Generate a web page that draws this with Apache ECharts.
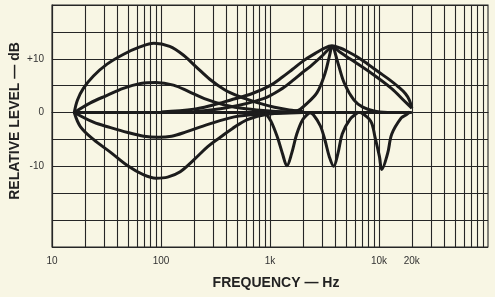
<!DOCTYPE html>
<html>
<head>
<meta charset="utf-8">
<script src="https://cdn.jsdelivr.net/npm/echarts@6/dist/echarts.min.js"></script>
<style>
html,body{margin:0;padding:0;background:#f8f6e4;}
#chart{width:495px;height:297px;}
</style>
</head>
<body>
<div id="chart"></div>
<script>
// ---- Data (frequency Hz, level dB) ----
const xTickValues = [10, 100, 1000, 10000, 20000];
const xTickLabels = ['10', '100', '1k', '10k', '20k'];
const yTickValues = [10, 0, -10];
const yTickLabels = ['+10', '0', '-10'];

const flatLine = [[16, 0], [20000, 0]];

const bassBoostHigh = [[16,0],[17.1,2.3],[19.4,4.5],[24,6.8],[32,9.0],[45,10.8],[64,12.2],[86,12.9],[120,12.3],[160,10.7],[210,8.5],[280,6.2],[380,4.3],[520,3.0],[750,1.9],[1100,1.0],[1500,0.5],[2000,0.2]];
const bassBoostLow = [[16,0],[22.5,1.8],[32,3.2],[45,4.5],[65,5.4],[90,5.6],[130,5.1],[180,3.9],[250,2.6],[400,1.3],[600,0.7],[1000,0.3],[2000,0]];
const bassCutLow = [[16,0],[24,-1.8],[34.5,-2.8],[49.5,-3.7],[69.5,-4.4],[94,-4.6],[125,-4.4],[170,-3.6],[270,-2.2],[470,-0.8],[800,-0.3],[2000,0]];
const bassCutHigh = [[16,0],[18.2,-2.6],[24,-5.0],[34.5,-7.4],[49.5,-9.9],[69.5,-11.6],[90,-12.2],[115,-12.0],[150,-11.0],[200,-8.8],[270,-6.3],[350,-4.6],[450,-3.0],[620,-1.3],[950,-0.3],[2000,0]];

const trebleWide = [[100,0.1],[200,0.6],[300,1.4],[430,2.3],[680,3.5],[1000,5.0],[1300,6.6],[1600,8.0],[2050,9.7],[2600,11.0],[3100,11.9],[3700,12.4],[4400,12.0],[5200,11.3],[6500,10.2],[7900,9.0],[10000,7.5],[12100,6.3],[15000,4.8],[17500,3.5],[19000,2.3],[20000,0.8]];
const trebleMedium = [[200,0.2],[400,0.9],[870,2.6],[1300,4.5],[1600,5.9],[2000,7.5],[2350,8.6],[3100,10.8],[3500,11.9],[3750,12.2],[4400,11.2],[5500,9.9],[8400,7.4],[13000,4.5],[17000,2.2],[20000,0.8]];
const trebleNarrow = [[1000,0],[1800,0.4],[2100,1.4],[2700,3.7],[3200,7.3],[3500,10.4],[3720,12.3],[4200,9.2],[4800,5.5],[5900,2.3],[7100,1.0],[9000,0.3],[12000,0]];

const notchLow = [[900,0],[1020,-1.6],[1170,-4.6],[1300,-7.6],[1430,-9.9],[1580,-7.6],[1760,-4.0],[2000,-1.3],[2300,0]];
const notchMid = [[2300,0],[2500,-0.4],[2900,-2.5],[3200,-5.2],[3500,-8.2],[3840,-10.0],[4200,-7.6],[4600,-4.0],[5400,-1.3],[6500,0.1]];
const notchHigh = [[6800,0],[8400,-1.6],[9200,-4.6],[10100,-8.2],[10600,-10.6],[12000,-7.6],[13100,-4.0],[16000,-1.0],[17800,-0.4],[19200,0.1]];

const curves = [flatLine, bassBoostHigh, bassBoostLow, bassCutLow, bassCutHigh,
                trebleWide, trebleMedium, trebleNarrow, notchLow, notchMid, notchHigh];

// vertical log-paper grid lines (1..9 per decade)
const gridFreqs = [];
for (let d = 10; d < 100000; d *= 10) {
  for (let m = 1; m <= 9; m++) gridFreqs.push(d * m);
}

const ink = '#1c1c1c';
const gridInk = '#262626';
const chart = echarts.init(document.getElementById('chart'));

const series = curves.map((c) => ({
  type: 'line',
  data: c,
  showSymbol: false,
  smooth: 0.35,
  lineStyle: { color: ink, width: 3 },
  z: 5,
  silent: true
}));

series.push({
  type: 'line',
  data: [],
  silent: true,
  markLine: {
    silent: true,
    symbol: 'none',
    label: { show: false },
    lineStyle: { color: gridInk, width: 1.1, type: 'solid' },
    data: gridFreqs.map(f => ({ xAxis: f }))
  },
  z: 1
});

chart.setOption({
  backgroundColor: '#f8f6e4',
  animation: false,
  grid: { left: 52, right: 7, top: 5, bottom: 50, outerBoundsMode: 'none', containLabel: false, show: true, borderColor: gridInk, borderWidth: 1.1 },
  xAxis: {
    type: 'log',
    logBase: 10,
    min: 10,
    max: 100000,
    name: 'FREQUENCY — Hz',
    nameLocation: 'middle',
    nameGap: 29,
    nameMoveOverlap: false,
    nameTextStyle: { fontFamily: 'Liberation Sans', fontWeight: 'bold', fontSize: 14, color: '#222', padding: [0, 0, 0, 12] },
    axisLine: { show: true, lineStyle: { color: gridInk, width: 1.1 } },
    axisTick: { show: false },
    splitLine: { show: false },
    axisLabel: {
      customValues: xTickValues,
      formatter: v => { const i = xTickValues.findIndex(t => Math.abs(t - v) / t < 1e-6); return i >= 0 ? xTickLabels[i] : ''; },
      margin: 9,
      fontFamily: 'Liberation Sans',
      fontSize: 10,
      color: '#333'
    }
  },
  yAxis: {
    type: 'value',
    min: -25,
    max: 20,
    interval: 5,
    name: 'RELATIVE LEVEL — dB',
    nameLocation: 'middle',
    nameGap: 30,
    nameRotate: 90,
    nameMoveOverlap: false,
    nameTextStyle: { fontFamily: 'Liberation Sans', fontWeight: 'bold', fontSize: 14, color: '#222', padding: [0, 0, 0, 10] },
    axisLine: { show: true, lineStyle: { color: gridInk, width: 1.1 } },
    axisTick: { show: false },
    splitLine: { show: true, lineStyle: { color: gridInk, width: 1.1 } },
    axisLabel: {
      formatter: v => { const i = yTickValues.indexOf(v); return i >= 0 ? yTickLabels[i] : ''; },
      margin: 8,
      fontFamily: 'Liberation Sans',
      fontSize: 10,
      color: '#333'
    }
  },
  series: series
});
</script>
</body>
</html>
